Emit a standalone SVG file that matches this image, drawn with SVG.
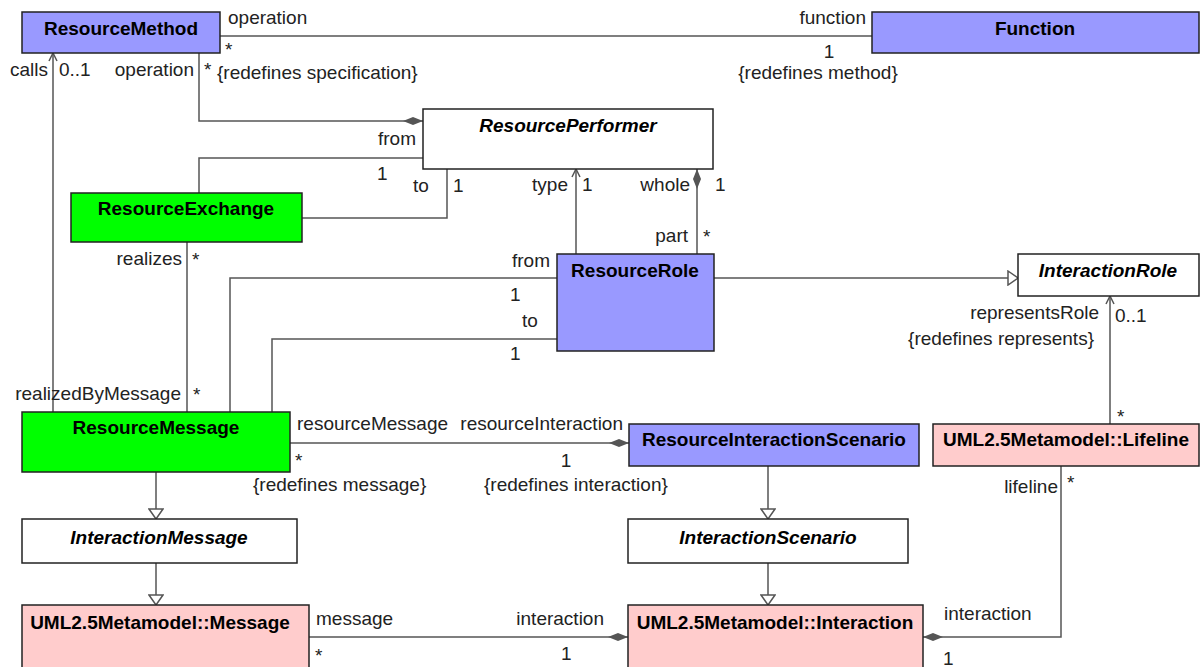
<svg xmlns="http://www.w3.org/2000/svg" width="1200" height="667" viewBox="0 0 1200 667">
<style>
.box{stroke:#222;stroke-width:1.5}
.blue{fill:#9999ff}.green{fill:#00ff00}.pink{fill:#ffcccc}.white{fill:#ffffff}
.t{font-family:"Liberation Sans",Arial,sans-serif;font-size:19px;font-weight:bold;text-anchor:middle;fill:#000}
.i{font-style:italic}
.c{fill:none;stroke:#555;stroke-width:1.5}
.l{font-family:"Liberation Sans",Arial,sans-serif;font-size:19px;fill:#222}
.e{text-anchor:end}.m{text-anchor:middle}
</style>
<defs>
<marker id="dia" markerUnits="userSpaceOnUse" markerWidth="20" markerHeight="8" viewBox="0 0 20 8" refX="20" refY="4" orient="auto"><path d="M0,4 L10,0 L20,4 L10,8 Z" fill="#555"/></marker>
<marker id="tri" markerUnits="userSpaceOnUse" markerWidth="12" markerHeight="16" viewBox="0 0 12 16" refX="11" refY="8" orient="auto"><path d="M1,1 L11,8 L1,15 Z" fill="#fff" stroke="#555" stroke-width="1.5"/></marker>
<marker id="arr" markerUnits="userSpaceOnUse" markerWidth="10" markerHeight="10" viewBox="0 0 10 10" refX="9" refY="5" orient="auto"><path d="M1,1 L9,5 L1,9" fill="none" stroke="#555" stroke-width="1.5"/></marker>
</defs>
<rect width="1200" height="667" fill="#fff"/>
<g id="connectors">
<path class="c" d="M220,36 H872"/>
<path class="c" d="M199,53 V121 H423" marker-end="url(#dia)"/>
<path class="c" d="M423,158 H199 V193"/>
<path class="c" d="M302,218 H447 V169"/>
<path class="c" d="M576,254 V169" marker-end="url(#arr)"/>
<path class="c" d="M697,254 V169" marker-end="url(#dia)"/>
<path class="c" d="M714,278 H1018" marker-end="url(#tri)"/>
<path class="c" d="M557,278 H230 V412"/>
<path class="c" d="M557,339 H272 V412"/>
<path class="c" d="M53,412 V53" marker-end="url(#arr)"/>
<path class="c" d="M187,242 V412"/>
<path class="c" d="M290,443 H629" marker-end="url(#dia)"/>
<path class="c" d="M156,472 V519" marker-end="url(#tri)"/>
<path class="c" d="M156,563 V605" marker-end="url(#tri)"/>
<path class="c" d="M768,466 V519" marker-end="url(#tri)"/>
<path class="c" d="M768,563 V605" marker-end="url(#tri)"/>
<path class="c" d="M1110,424 V296" marker-end="url(#arr)"/>
<path class="c" d="M1061,466 V637 H923" marker-end="url(#dia)"/>
<path class="c" d="M309,637 H628" marker-end="url(#dia)"/>
</g>
<g id="ResourceMethod"><rect class="box blue" x="22" y="12" width="198" height="41"/><text class="t" x="121" y="35">ResourceMethod</text></g>
<g id="Function"><rect class="box blue" x="872" y="12" width="327" height="41"/><text class="t" x="1035" y="35">Function</text></g>
<g id="ResourcePerformer"><rect class="box white" x="423" y="109" width="290" height="60"/><text class="t i" x="568" y="132">ResourcePerformer</text></g>
<g id="ResourceExchange"><rect class="box green" x="71" y="193" width="231" height="49"/><text class="t" x="186" y="215">ResourceExchange</text></g>
<g id="ResourceRole"><rect class="box blue" x="557" y="254" width="157" height="97"/><text class="t" x="635" y="277">ResourceRole</text></g>
<g id="InteractionRole"><rect class="box white" x="1018" y="254" width="181" height="42"/><text class="t i" x="1108" y="277">InteractionRole</text></g>
<g id="ResourceMessage"><rect class="box green" x="22" y="412" width="268" height="60"/><text class="t" x="156" y="434">ResourceMessage</text></g>
<g id="ResourceInteractionScenario"><rect class="box blue" x="629" y="424" width="290" height="42"/><text class="t" x="774" y="446">ResourceInteractionScenario</text></g>
<g id="Lifeline"><rect class="box pink" x="933" y="424" width="266" height="42"/><text class="t" x="1066" y="446">UML2.5Metamodel::Lifeline</text></g>
<g id="InteractionMessage"><rect class="box white" x="22" y="519" width="275" height="44"/><text class="t i" x="159" y="544">InteractionMessage</text></g>
<g id="InteractionScenario"><rect class="box white" x="628" y="519" width="280" height="44"/><text class="t i" x="768" y="544">InteractionScenario</text></g>
<g id="Message"><rect class="box pink" x="22" y="605" width="287" height="66"/><text class="t" x="160" y="629">UML2.5Metamodel::Message</text></g>
<g id="Interaction"><rect class="box pink" x="628" y="605" width="295" height="66"/><text class="t" x="775" y="629">UML2.5Metamodel::Interaction</text></g>
<g id="labels">
<text class="l" x="228" y="24">operation</text>
<text class="l" x="225" y="56">*</text>
<text class="l e" x="866" y="24">function</text>
<text class="l m" x="829" y="58">1</text>
<text class="l m" x="818" y="79">{redefines method}</text>
<text class="l e" x="48" y="76">calls</text>
<text class="l" x="59" y="76">0..1</text>
<text class="l e" x="194" y="76">operation</text>
<text class="l" x="204" y="76">*</text>
<text class="l" x="217" y="79">{redefines specification}</text>
<text class="l e" x="416" y="145">from</text>
<text class="l" x="377" y="180">1</text>
<text class="l" x="413" y="192">to</text>
<text class="l" x="453" y="192">1</text>
<text class="l e" x="568" y="191">type</text>
<text class="l" x="582" y="191">1</text>
<text class="l e" x="690" y="191">whole</text>
<text class="l" x="715" y="191">1</text>
<text class="l e" x="688" y="242">part</text>
<text class="l" x="703" y="243">*</text>
<text class="l e" x="182" y="265">realizes</text>
<text class="l" x="192" y="266">*</text>
<text class="l e" x="550" y="267">from</text>
<text class="l" x="510" y="301">1</text>
<text class="l" x="522" y="327">to</text>
<text class="l" x="510" y="360">1</text>
<text class="l e" x="181" y="400">realizedByMessage</text>
<text class="l" x="193" y="401">*</text>
<text class="l" x="297" y="430">resourceMessage</text>
<text class="l" x="295" y="467">*</text>
<text class="l" x="253" y="491">{redefines message}</text>
<text class="l e" x="623" y="430">resourceInteraction</text>
<text class="l m" x="566" y="467">1</text>
<text class="l" x="484" y="491">{redefines interaction}</text>
<text class="l e" x="1099" y="319">representsRole</text>
<text class="l e" x="1094" y="345">{redefines represents}</text>
<text class="l" x="1115" y="322">0..1</text>
<text class="l" x="1117" y="423">*</text>
<text class="l e" x="1058" y="493">lifeline</text>
<text class="l" x="1067" y="489">*</text>
<text class="l" x="316" y="625">message</text>
<text class="l" x="315" y="662">*</text>
<text class="l e" x="604" y="625">interaction</text>
<text class="l" x="561" y="660">1</text>
<text class="l" x="944" y="620">interaction</text>
<text class="l" x="943" y="665">1</text>
</g>
</svg>
